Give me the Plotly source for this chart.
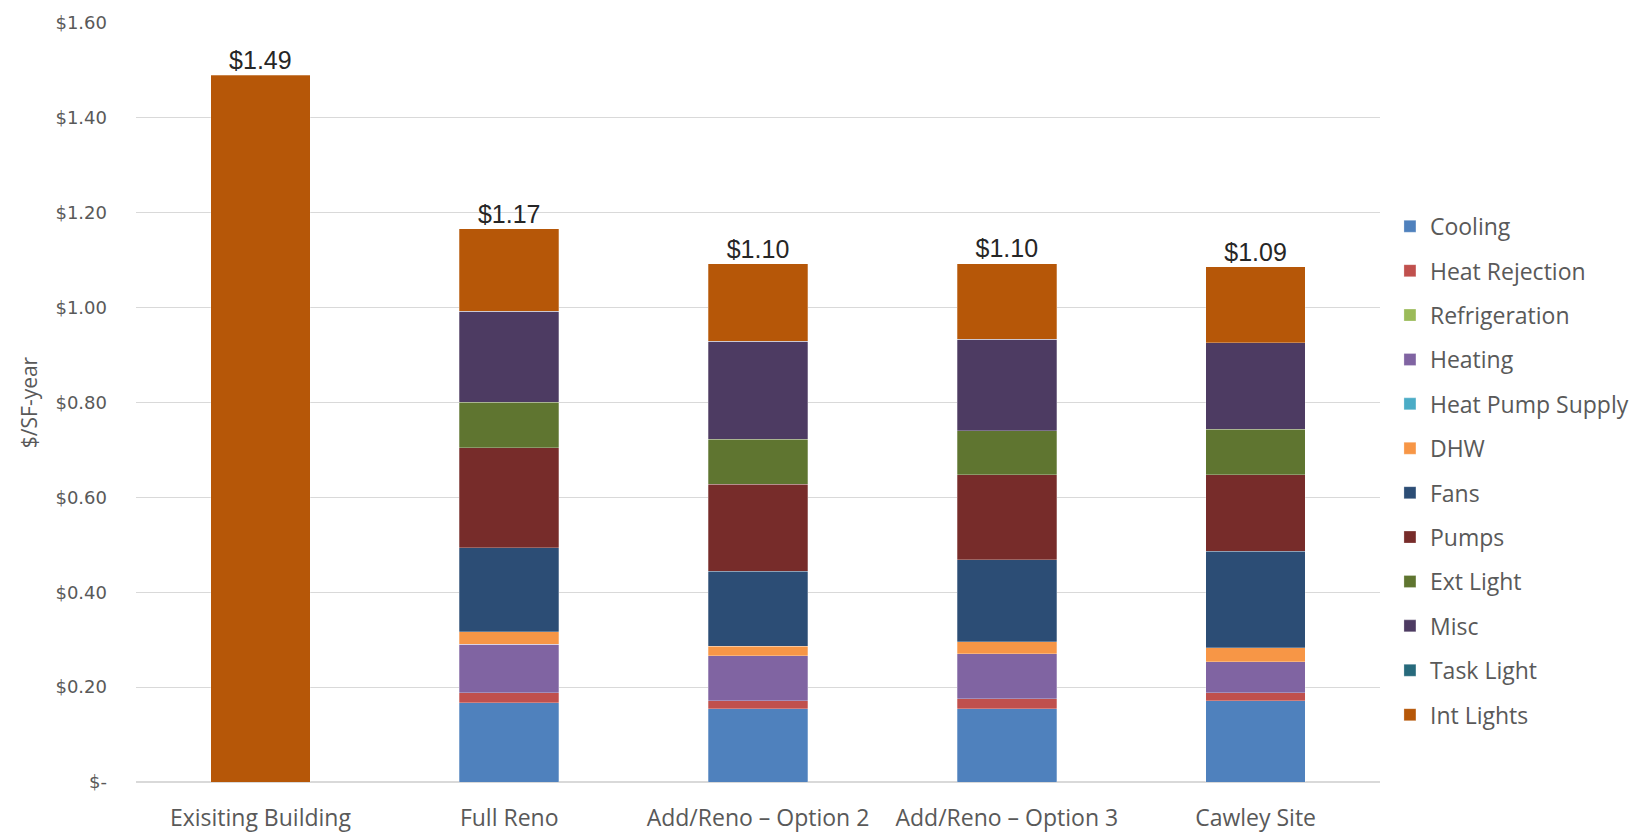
import plotly.graph_objects as go

categories = ["Exisiting Building", "Full Reno", "Add/Reno – Option 2", "Add/Reno – Option 3", "Cawley Site"]

cooling        = [0.0, 0.167, 0.154, 0.154, 0.171]
heat_rejection = [0.0, 0.021, 0.017, 0.021, 0.017]
refrigeration  = [0.0, 0.0, 0.0, 0.0, 0.0]
heating        = [0.0, 0.102, 0.095, 0.095, 0.066]
heat_pump      = [0.0, 0.0, 0.0, 0.0, 0.0]
dhw            = [0.0, 0.027, 0.020, 0.026, 0.029]
fans           = [0.0, 0.177, 0.158, 0.173, 0.203]
pumps          = [0.0, 0.211, 0.184, 0.179, 0.162]
ext_light      = [0.0, 0.096, 0.095, 0.092, 0.096]
misc           = [0.0, 0.191, 0.206, 0.193, 0.182]
task_light     = [0.0, 0.0, 0.0, 0.0, 0.0]
int_lights     = [1.490, 0.174, 0.163, 0.160, 0.160]

total_labels = ["$1.49", "$1.17", "$1.10", "$1.10", "$1.09"]

tick_vals = [0, 0.2, 0.4, 0.6, 0.8, 1.0, 1.2, 1.4, 1.6]
tick_text = ["$-", "$0.20", "$0.40", "$0.60", "$0.80", "$1.00", "$1.20", "$1.40", "$1.60"]

series = [
    ("Cooling", cooling, "#4F81BD"),
    ("Heat Rejection", heat_rejection, "#C0504D"),
    ("Refrigeration", refrigeration, "#9BBB59"),
    ("Heating", heating, "#8064A2"),
    ("Heat Pump Supply", heat_pump, "#4BACC6"),
    ("DHW", dhw, "#F79646"),
    ("Fans", fans, "#2C4D75"),
    ("Pumps", pumps, "#772C2A"),
    ("Ext Light", ext_light, "#5F7530"),
    ("Misc", misc, "#4D3B62"),
    ("Task Light", task_light, "#276A7C"),
    ("Int Lights", int_lights, "#B65708"),
]

fig = go.Figure()
for name, vals, color in series:
    fig.add_trace(go.Bar(
        x=categories, y=vals, name=name, legendgroup=name,
        marker=dict(color=color, line=dict(color="rgba(255,255,255,0.45)", width=0.6)),
        hoverinfo="name+y",
    ))

totals = [sum(s[1][i] for s in series) for i in range(len(categories))]
fig.add_trace(go.Scatter(
    x=categories, y=totals, mode="text", text=total_labels,
    textposition="top center", showlegend=False, hoverinfo="skip",
    textfont=dict(family="Liberation Sans, Arial, sans-serif", size=25, color="#262626"),
))

fig.update_layout(
    barmode="stack",
    bargap=0.6,
    width=1642, height=835,
    margin=dict(l=136, r=262, t=23, b=53, autoexpand=False),
    paper_bgcolor="white", plot_bgcolor="white",
    legend=dict(
        x=1.008, xanchor="left", y=0.41, yanchor="middle",
        traceorder="grouped", tracegroupgap=11.5,
        font=dict(family="Open Sans, sans-serif", size=23, color="#595959"),
        itemwidth=30,
    ),
    showlegend=True,
)
fig.update_xaxes(
    showgrid=False, showline=False, ticks="", automargin=False,
    tickfont=dict(family="Open Sans, sans-serif", size=23, color="#595959"),
    ticklabelstandoff=20,
)
fig.update_yaxes(
    range=[0, 1.6], tickvals=tick_vals, ticktext=tick_text, automargin=False,
    showgrid=True, gridcolor="#D9D9D9", gridwidth=1,
    zeroline=True, zerolinecolor="#D9D9D9", zerolinewidth=1.5,
    tickfont=dict(family="DejaVu Sans, sans-serif", size=18, color="#595959"),
    ticklabelstandoff=28,
    title=dict(text="$/SF-year", font=dict(family="Open Sans, sans-serif", size=21, color="#595959"), standoff=12),
)

fig.write_html("out.html")
